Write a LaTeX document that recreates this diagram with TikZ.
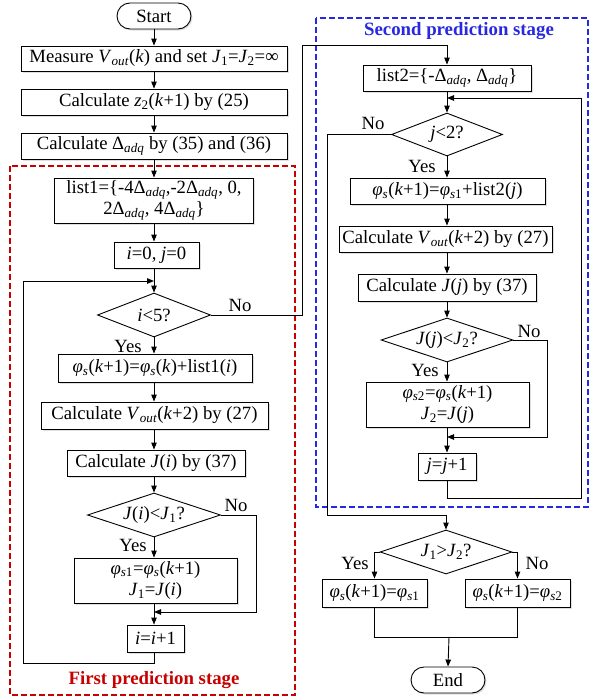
\documentclass[tikz,border=0pt]{standalone}
\usepackage{fontspec}
\setmainfont{Liberation Serif}
\usetikzlibrary{arrows.meta,shapes.geometric,shadows}
\newcommand{\sbs}[1]{\textsubscript{#1}}
\newcommand{\vi}[1]{\textit{#1}}
\definecolor{stagered}{RGB}{200,0,0}
\definecolor{stageblue}{RGB}{40,40,225}
\begin{document}
\begin{tikzpicture}[x=1pt,y=-1pt,
  every node/.style={font=\fontsize{18.7}{21.5}\selectfont},
  box/.style={draw, line width=0.9pt, fill=white, rectangle, inner sep=0pt, align=center,
    drop shadow={shadow xshift=1.5pt, shadow yshift=-1.5pt, opacity=0.25, fill=gray}},
  term/.style={box, rounded corners=13pt},
  dec/.style={draw, line width=0.9pt, fill=white, diamond, inner sep=0pt, aspect=2.5},
  conn/.style={line width=0.9pt},
  arr/.style={conn, -{Triangle[length=7pt,width=5.5pt]}},
  lab/.style={inner sep=0pt},
  stage/.style={line width=1.4pt, dash pattern=on 6pt off 3pt}]
\useasboundingbox (0,0) rectangle (591,699);
% stage frames
\draw[stage, stagered] (10,166) rectangle (295,695);
\draw[stage, stageblue] (316,18) rectangle (588,507);
\node[lab, text=stagered, font=\fontsize{18.8}{21.5}\selectfont\bfseries] (t1) at (154,680) {First prediction stage};
\node[lab, text=stageblue, font=\fontsize{18.8}{21.5}\selectfont\bfseries] (t2) at (459,31) {Second prediction stage};
% left column
\node[term, minimum width=74, minimum height=26] (start) at (154,16) {Start};
\node[box, minimum width=266, minimum height=25] (meas) at (154,58.5) {Measure \vi{V}\sbs{\vi{out}}(\vi{k}) and set \vi{J}\sbs{1}=\vi{J}\sbs{2}=∞};
\node[box, minimum width=266, minimum height=26] (calcz) at (154,102) {Calculate \vi{z}\sbs{2}(\vi{k}+1) by (25)};
\node[box, minimum width=266, minimum height=26] (calcd) at (154,146) {Calculate Δ\sbs{\vi{adq}} by (35) and (36)};
\node[box, minimum width=199, minimum height=45] (list1) at (154,200.5) {list1=\{-4Δ\sbs{\vi{adq}},-2Δ\sbs{\vi{adq}}, 0,\\2Δ\sbs{\vi{adq}}, 4Δ\sbs{\vi{adq}}\}};
\node[box, minimum width=85, minimum height=26] (init) at (156.5,255) {\vi{i}=0, \vi{j}=0};
\node[dec, minimum width=113, minimum height=44] (d1) at (154,315) {\vi{i}<5?};
\node[box, minimum width=194, minimum height=28] (phi1) at (155,368) {\vi{φ}\sbs{\vi{s}}(\vi{k}+1)=\vi{φ}\sbs{\vi{s}}(\vi{k})+list1(\vi{i})};
\node[box, minimum width=227, minimum height=27] (vout1) at (154.5,415.5) {Calculate \vi{V}\sbs{\vi{out}}(\vi{k}+2) by (27)};
\node[box, minimum width=178, minimum height=26] (j1) at (156,463) {Calculate \vi{J}(\vi{i}) by (37)};
\node[dec, minimum width=133, minimum height=44] (d2) at (154,515) {\vi{J}(\vi{i})<\vi{J}\sbs{1}?};
\node[box, minimum width=163, minimum height=45] (ps1) at (155.5,580.5) {\vi{φ}\sbs{\vi{s}1}=\vi{φ}\sbs{\vi{s}}(\vi{k}+1)\\\vi{J}\sbs{1}=\vi{J}(\vi{i})};
\node[box, minimum width=57, minimum height=27] (inc1) at (155.5,638.5) {\vi{i}=\vi{i}+1};
% right column
\node[box, minimum width=168, minimum height=26] (list2) at (447,78) {list2=\{-Δ\sbs{\vi{adq}}, Δ\sbs{\vi{adq}}\}};
\node[dec, minimum width=111, minimum height=43] (d3) at (447,134.5) {\vi{j}<2?};
\node[box, minimum width=195, minimum height=26] (phi2) at (447.5,191) {\vi{φ}\sbs{\vi{s}}(\vi{k}+1)=\vi{φ}\sbs{\vi{s}1}+list2(\vi{j})};
\node[box, minimum width=213, minimum height=26] (vout2) at (445.5,239) {Calculate \vi{V}\sbs{\vi{out}}(\vi{k}+2) by (27)};
\node[box, minimum width=178, minimum height=27] (j2) at (447,287.5) {Calculate \vi{J}(\vi{j}) by (37)};
\node[dec, minimum width=132, minimum height=44] (d4) at (447,340) {\vi{J}(\vi{j})<\vi{J}\sbs{2}?};
\node[box, minimum width=163, minimum height=45] (ps2) at (447.5,404.5) {\vi{φ}\sbs{\vi{s}2}=\vi{φ}\sbs{\vi{s}}(\vi{k}+1)\\\vi{J}\sbs{2}=\vi{J}(\vi{j})};
\node[box, minimum width=58, minimum height=27] (inc2) at (447,466.5) {\vi{j}=\vi{j}+1};
\node[dec, minimum width=132, minimum height=44] (d5) at (446,552) {\vi{J}\sbs{1}>\vi{J}\sbs{2}?};
\node[box, minimum width=105, minimum height=28] (fin1) at (374.5,593) {\vi{φ}\sbs{\vi{s}}(\vi{k}+1)=\vi{φ}\sbs{\vi{s}1}};
\node[box, minimum width=105, minimum height=28] (fin2) at (517.5,593) {\vi{φ}\sbs{\vi{s}}(\vi{k}+1)=\vi{φ}\sbs{\vi{s}2}};
\node[term, minimum width=74, minimum height=26] (end) at (448,680) {End};
% junction coordinates
\coordinate (jl1) at (154,281);
\coordinate (jl2) at (154,612);
\coordinate (jr1) at (447,98);
\coordinate (jr2) at (447,437);
\coordinate (jm) at (446,515);
\coordinate (jb) at (449,637);
% left connectors
\draw[arr] (start) -- (meas);
\draw[arr] (meas) -- (calcz);
\draw[arr] (calcz) -- (calcd);
\draw[arr] (calcd) -- (list1);
\draw[arr] (list1.south) -- (list1.south |- init.north);
\draw[arr] (init.south -| d1.north) -- (d1.north);
\draw[arr] (d1.south) -- (d1.south |- phi1.north);
\draw[arr] (phi1.south -| d1.south) -- (d1.south |- vout1.north);
\draw[arr] (vout1.south -| d1.south) -- (d1.south |- j1.north);
\draw[arr] (j1.south -| d2.north) -- (d2.north);
\draw[arr] (d2.south) -- (d2.south |- ps1.north);
\draw[arr] (ps1.south -| d2.south) -- (d2.south |- inc1.north);
\draw[arr] (d2.east) -- (256,515) -- (256,612) -- (jl2);
\draw[arr] (inc1.south -| jl1) -- (154,663) -- (23,663) -- (23,281) -- (jl1);
\draw[arr] (d1.east) -- (302,315) -- (302,45) -- (447,45) -- (list2.north);
% right connectors
\draw[arr] (list2) -- (d3);
\draw[arr] (d3.south) -- (d3.south |- phi2.north);
\draw[arr] (phi2.south -| d3.south) -- (d3.south |- vout2.north);
\draw[arr] (vout2.south -| d3.south) -- (d3.south |- j2.north);
\draw[arr] (j2.south -| d4.north) -- (d4.north);
\draw[arr] (d4.south) -- (d4.south |- ps2.north);
\draw[arr] (ps2.south -| d4.south) -- (d4.south |- inc2.north);
\draw[arr] (d4.east) -- (547,340) -- (547,437) -- (jr2);
\draw[arr] (inc2.south) -- (447,498) -- (581,498) -- (581,98) -- (jr1);
\draw[arr] (d3.west) -- (327,134.5) -- (327,515) -- (jm) -- (d5.north);
\draw[arr] (d5.west) -- (fin1.north |- d5.west) -- (fin1.north);
\draw[arr] (d5.east) -- (fin2.north |- d5.east) -- (fin2.north);
\draw[conn] (fin1.south) -- (fin1.south |- jb) -- (fin2.south |- jb) -- (fin2.south);
\draw[arr] (jb) -- (end.north);
% labels
\node[lab] (y1) at (128,346) {Yes};
\node[lab] (n1) at (240,305) {No};
\node[lab] (y2) at (133,545) {Yes};
\node[lab] (n2) at (236,505) {No};
\node[lab] (y3) at (422,166) {Yes};
\node[lab] (n3) at (373,123) {No};
\node[lab] (y4) at (425,370) {Yes};
\node[lab] (n4) at (529,331) {No};
\node[lab] (y5) at (355,563) {Yes};
\node[lab] (n5) at (537,563) {No};
\end{tikzpicture}
\end{document}
